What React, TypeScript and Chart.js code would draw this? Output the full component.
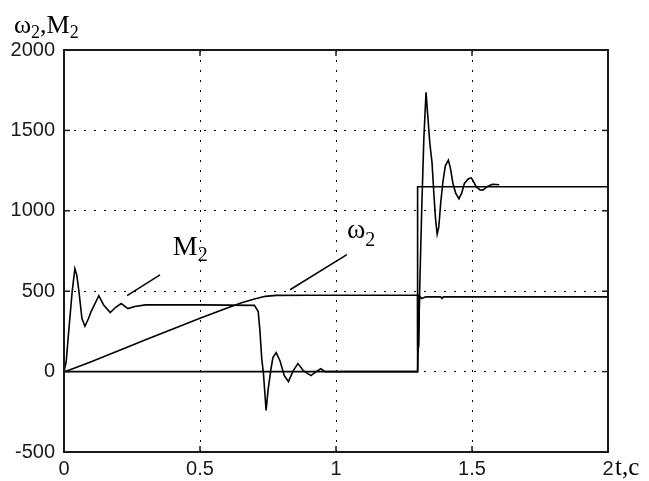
import React, { useEffect, useRef } from "react";
import { Chart, registerables } from "chart.js";

Chart.register(...registerables);

// Axis ticks
const xTicks = [0, 0.5, 1, 1.5, 2];
const yTicks = [-500, 0, 500, 1000, 1500, 2000];

// Load torque step (reference)
const loadTime = [0, 1.3, 1.3, 2];
const loadValue = [0, 0, 1150, 1150];

// Speed ω2
const omegaTime = [0, 0.02, 0.1, 0.2, 0.3, 0.4, 0.5, 0.6, 0.65, 0.7, 0.74, 0.78, 0.9, 1.0, 1.1, 1.2, 1.3, 1.3005, 1.302, 1.304, 1.307, 1.315, 1.33, 1.385, 1.39, 1.395, 1.6, 2];
const omegaValue = [0, 10, 62, 130, 198, 265, 332, 396, 427, 452, 468, 474, 475, 475, 475, 475, 475, 135, 480, 150, 470, 455, 465, 465, 455, 465, 465, 465];

// Torque M2
const torqueTime = [
  0, 0.008, 0.015, 0.03, 0.04, 0.047, 0.055, 0.066, 0.077, 0.09, 0.1, 0.128, 0.145, 0.17, 0.19, 0.21, 0.235, 0.26, 0.3, 0.5, 0.7,
  0.714, 0.72, 0.727, 0.733, 0.743, 0.75, 0.76, 0.768, 0.78, 0.794, 0.81, 0.825, 0.843, 0.86, 0.88, 0.908, 0.927, 0.944, 0.96, 1.0, 1.3,
  1.306, 1.315, 1.323, 1.331, 1.337, 1.345, 1.353, 1.36, 1.366, 1.372, 1.378, 1.385, 1.393, 1.402, 1.413, 1.42, 1.43, 1.44, 1.452,
  1.462, 1.472, 1.487, 1.497, 1.505, 1.515, 1.53, 1.54, 1.555, 1.575, 1.6,
];
const torqueValue = [
  0, 60, 205, 497, 640, 600, 497, 330, 282, 330, 375, 472, 416, 367, 400, 423, 392, 405, 415, 415, 412,
  373, 261, 81, -6, -242, -118, 6, 87, 118, 68, -25, -62, 6, 50, 6, -25, 0, 18, 0, 0, 0,
  400, 1000, 1450, 1737, 1600, 1420, 1300, 1100, 950, 855, 900, 1050, 1180, 1280, 1315, 1270, 1170, 1110, 1075,
  1110, 1170, 1200, 1205, 1185, 1150, 1130, 1128, 1150, 1165, 1162,
];

// Annotation anchors (data coordinates)
const torqueLabelLine = [[0.232, 472], [0.353, 602]];
const torqueLabelPos = [0.4, 725];
const omegaLabelLine = [[0.831, 509], [1.04, 727]];
const omegaLabelPos = [1.04, 831];

const toPoints = (t: number[], v: number[]) => t.map((x, i) => ({ x, y: v[i] }));

const SERIF = '"Liberation Serif", "Times New Roman", serif';
const INK = "#1a1a1a";

function drawSub(ctx: CanvasRenderingContext2D, x: number, y: number, parts: [string, boolean][], size: number, subSize: number, subOff: number) {
  let cx = x;
  for (const [t, sub] of parts) {
    ctx.font = `${sub ? subSize : size}px ${SERIF}`;
    ctx.fillText(t, cx, sub ? y + subOff : y);
    cx += ctx.measureText(t).width;
  }
}

const decor = {
  id: "decor",
  afterDraw(chart: any) {
    const { ctx, chartArea: a, scales } = chart;
    const xs = scales.x;
    const ys = scales.y;
    ctx.save();
    ctx.strokeStyle = INK;
    ctx.lineWidth = 1.5;
    ctx.setLineDash([]);
    const seg = (x1: number, y1: number, x2: number, y2: number) => {
      ctx.beginPath();
      ctx.moveTo(x1, y1);
      ctx.lineTo(x2, y2);
      ctx.stroke();
    };
    const L = 6;
    xTicks.forEach((v) => {
      const p = xs.getPixelForValue(v);
      seg(p, a.bottom, p, a.bottom - L);
      seg(p, a.top, p, a.top + L);
    });
    yTicks.forEach((v) => {
      const p = ys.getPixelForValue(v);
      seg(a.left, p, a.left + L, p);
      seg(a.right, p, a.right - L, p);
    });
    ctx.lineWidth = 2;
    ctx.strokeRect(a.left, a.top, a.right - a.left, a.bottom - a.top);

    // annotation pointer lines
    ctx.lineWidth = 1.5;
    ctx.strokeStyle = "#000";
    const P = (d: number[]) => [xs.getPixelForValue(d[0]), ys.getPixelForValue(d[1])];
    const [m1, m2] = torqueLabelLine.map(P);
    seg(m1[0], m1[1], m2[0], m2[1]);
    const [o1, o2] = omegaLabelLine.map(P);
    seg(o1[0], o1[1], o2[0], o2[1]);

    ctx.fillStyle = "#000";
    ctx.textBaseline = "alphabetic";
    ctx.textAlign = "left";
    const mp = P(torqueLabelPos);
    drawSub(ctx, mp[0], mp[1], [["M", false], ["2", true]], 28, 20, 6);
    const op = P(omegaLabelPos);
    drawSub(ctx, op[0], op[1], [["ω", false], ["2", true]], 28, 20, 8);

    // axis titles
    drawSub(ctx, a.left - 50, a.top - 17, [["ω", false], ["2", true], [",M", false], ["2", true]], 26, 18, 5);
    ctx.font = `25px ${SERIF}`;
    ctx.fillText("t,c", a.right + 7, a.bottom + 23);
    ctx.restore();
  },
};

export default function App() {
  const ref = useRef<HTMLCanvasElement | null>(null);
  useEffect(() => {
    if (!ref.current) return;
    const line = (t: number[], v: number[]) => ({
      data: toPoints(t, v),
      borderColor: "#000",
      borderWidth: 1.6,
      pointRadius: 0,
      tension: 0,
      fill: false,
    });
    const chart = new Chart(ref.current, {
      type: "line",
      data: {
        datasets: [line(loadTime, loadValue), line(omegaTime, omegaValue), line(torqueTime, torqueValue)],
      },
      options: {
        animation: false,
        responsive: true,
        maintainAspectRatio: false,
        layout: { padding: { top: 50, right: 41, left: 0, bottom: 0 } },
        plugins: { legend: { display: false }, tooltip: { enabled: false } },
        scales: {
          x: {
            type: "linear",
            min: 0,
            max: 2,
            afterFit: (s: any) => { s.height = 29; },
            afterBuildTicks: (s: any) => { s.ticks = xTicks.map((v) => ({ value: v })); },
            ticks: {
              callback: (v: any) => String(v),
              color: INK,
              padding: 5,
              maxRotation: 0,
              font: { family: '"Liberation Sans", Arial, sans-serif', size: 20 },
            },
            grid: { color: "#000", lineWidth: 1, drawTicks: false },
            border: { display: false, dash: [2, 8] },
          },
          y: {
            type: "linear",
            min: -500,
            max: 2000,
            afterFit: (s: any) => { s.width = 64; },
            afterBuildTicks: (s: any) => { s.ticks = yTicks.map((v) => ({ value: v })); },
            ticks: {
              callback: (v: any) => String(v),
              color: INK,
              padding: 9,
              font: { family: '"Liberation Sans", Arial, sans-serif', size: 20 },
            },
            grid: { color: "#000", lineWidth: 1, drawTicks: false },
            border: { display: false, dash: [2, 8] },
          },
        },
      },
      plugins: [decor],
    } as any);
    return () => chart.destroy();
  }, []);
  return (
    <div style={{ position: "fixed", left: 0, top: 0, width: 649, height: 481, background: "#fff" }}>
      <canvas ref={ref} />
    </div>
  );
}
